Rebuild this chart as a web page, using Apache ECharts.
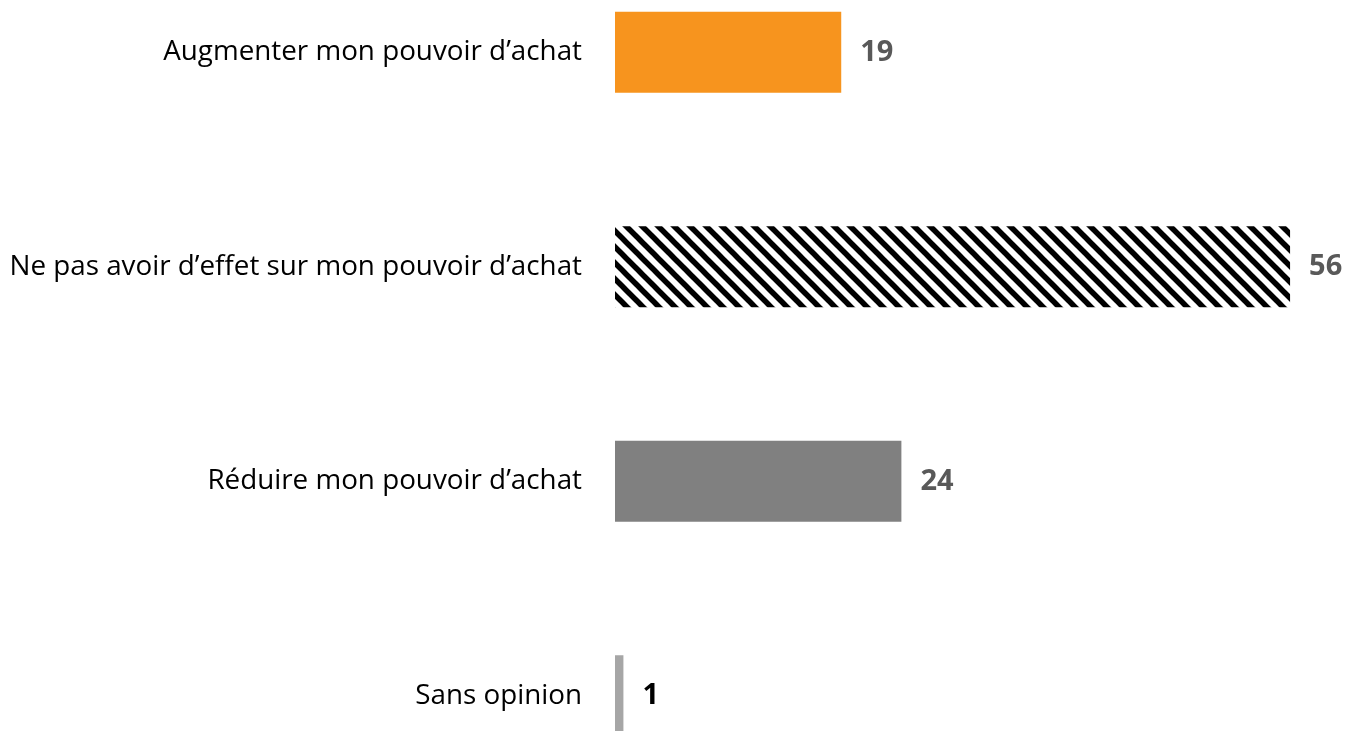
<!DOCTYPE html>
<html><head><meta charset="utf-8">
<script src="https://cdn.jsdelivr.net/npm/echarts@6/dist/echarts.min.js"></script>
<style>html,body{margin:0;padding:0;background:#fff;}#c{width:1347px;height:731px;}</style>
</head><body><div id="c"></div>
<script>
const categories = ["Augmenter mon pouvoir d\u2019achat", "Ne pas avoir d\u2019effet sur mon pouvoir d\u2019achat", "R\u00e9duire mon pouvoir d\u2019achat", "Sans opinion"];
const values = [18.8, 56.1, 23.8, 0.7];
const labels = ["19", "56", "24", "1"];

function hatch() {
  const c = document.createElement('canvas');
  c.width = 16; c.height = 16;
  const g = c.getContext('2d');
  g.fillStyle = '#fff'; g.fillRect(0, 0, 16, 16);
  g.strokeStyle = '#000'; g.lineWidth = 5.5;
  [-16, 0, 16].forEach(o => { g.beginPath(); g.moveTo(o - 4, -4); g.lineTo(o + 20, 20); g.stroke(); });
  return c;
}
const colors = ['#F7941E', {image: hatch(), repeat: 'repeat'}, '#808080', '#A6A6A6'];
const labelColors = ['#595959', '#595959', '#595959', '#000000'];

const chart = echarts.init(document.getElementById('c'), null, {renderer: 'canvas'});
chart.setOption({
  animation: false,
  grid: {left: 615, right: 10, top: -55, height: 858, containLabel: false, outerBoundsMode: 'none'},
  xAxis: {type: 'value', min: 0, max: 60, show: false},
  yAxis: {type: 'category', inverse: true, data: categories,
    axisLine: {show: false}, axisTick: {show: false},
    axisLabel: {margin: 33, fontFamily: 'Open Sans', fontSize: 27.8, color: '#000'}},
  series: [{
    type: 'bar', barWidth: 81,
    data: values.map((v, i) => ({value: v, itemStyle: {color: colors[i]},
      label: {color: labelColors[i]}})),
    label: {show: true, position: 'right', distance: 19, fontFamily: 'Open Sans', fontWeight: 'bold', fontSize: 29,
      formatter: p => labels[p.dataIndex]}
  }]
});
</script></body></html>
